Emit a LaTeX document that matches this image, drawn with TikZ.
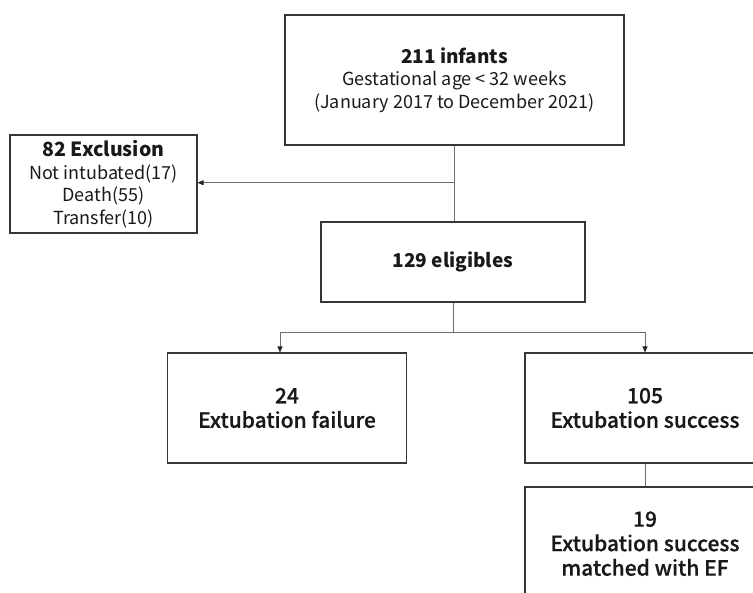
\documentclass[tikz,border=0pt]{standalone}
\usepackage{fontspec}
\setmainfont{Noto Sans CJK KR}
\newfontfamily\semib{Noto Sans CJK KR Medium}[FakeBold=0.6]
\usetikzlibrary{arrows.meta}
\definecolor{boxc}{RGB}{55,55,55}
\definecolor{linec}{RGB}{110,110,110}
\tikzset{
  box/.style={draw=boxc, line width=1.1pt, rectangle, align=center, inner sep=0pt, text=black!90},
  conn/.style={draw=linec, line width=0.8pt},
  arr/.style={conn, -{Triangle[length=6pt,width=5pt,color=black!85,fill=black!85]}},
  ft/.style={font=\fontsize{18}{22.5}\selectfont},
  fb/.style={font=\semib\fontsize{21}{24.5}\selectfont},
}
\begin{document}
\begin{tikzpicture}[x=1pt,y=-1pt]
\useasboundingbox (0,0) rectangle (753,593);
\clip (0,0) rectangle (753,593);
\node[box, ft, minimum width=339, minimum height=130] (top) at (454.5,80)
  {\textbf{\fontsize{19}{22.5}\selectfont 211 infants}\\Gestational age < 32 weeks\\(January 2017 to December 2021)};
\node[box, ft, minimum width=187, minimum height=98] (excl) at (103.5,184)
  {\textbf{\fontsize{19.5}{22}\selectfont 82 Exclusion}\\Not intubated(17)\\Death(55)\\Transfer(10)};
\node[box, font=\fontsize{19}{24}\selectfont, minimum width=264, minimum height=80] (elig) at (453,262)
  {\textbf{129 eligibles}};
\node[box, fb, minimum width=239, minimum height=110] (fail) at (287,408)
  {24\\Extubation failure};
\node[box, fb, minimum width=240, minimum height=110] (succ) at (645,408)
  {105\\Extubation success};
\node[box, fb, minimum width=240, minimum height=113, text depth=0pt] (match) at (645,543.5)
  {19\\Extubation success\\matched with EF};
\draw[conn] (top.south) -- (top.south |- elig.north) coordinate[pos=0.49] (mid);
\draw[arr] (mid) -- (mid -| excl.east);
\draw[conn] (elig.south) -- ++(0,30) coordinate (split);
\draw[arr] (split) -| ([xshift=-7pt]fail.north);
\draw[arr] (split) -| (succ.north);
\draw[conn] (succ.south) -- (match.north);
\end{tikzpicture}
\end{document}
